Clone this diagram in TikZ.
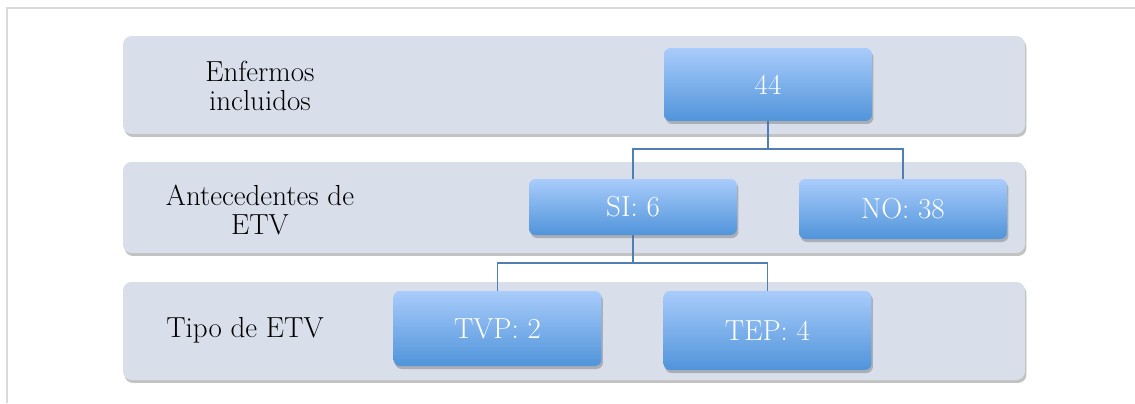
\documentclass[tikz,border=0pt]{standalone}
\usetikzlibrary{shadows,calc}
\definecolor{bandfill}{HTML}{D9DEEB}
\definecolor{bluetop}{HTML}{A9CCFB}
\definecolor{bluebot}{HTML}{5094DA}
\definecolor{connc}{HTML}{4F7FB5}
\definecolor{framec}{HTML}{DADADA}
\begin{document}
\begin{tikzpicture}[x=0.02cm,y=-0.02cm,
  band/.style={rectangle,rounded corners=0.17cm,fill=bandfill,minimum width=18.04cm,
    drop shadow={shadow xshift=0.03cm,shadow yshift=-0.06cm,opacity=0.4,fill=black!60}},
  bluebox/.style={rectangle,rounded corners=0.13cm,top color=bluetop,bottom color=bluebot,
    minimum width=4.16cm,text=white,font=\fontsize{16.5}{16}\selectfont,
    drop shadow={shadow xshift=0.03cm,shadow yshift=-0.06cm,opacity=0.4,fill=black!60}},
  lab/.style={align=center,font=\fontsize{16.5}{16.5}\selectfont},
  conn/.style={draw=connc,line width=1.1pt}]
\useasboundingbox (0,0) rectangle (1135,403);
\draw[framec,line width=1pt] (7,403) -- (7,8) -- (1135,8);
% bands
\node[band,minimum height=1.96cm] (b1) at (574,85) {};
\node[band,minimum height=1.82cm] (b2) at (574,207.5) {};
\node[band,minimum height=1.96cm] (b3) at (574,331) {};
% labels
\node[lab] (l1) at (260,86) {Enfermos\\incluidos};
\node[lab] (l2) at (260,210) {Antecedentes de\\ETV};
\node[lab] (l3) at (245,330) {Tipo de ETV};
% box coordinates for connectors
\coordinate (c44) at (768,121);
\coordinate (csi) at (633,235);
% connectors
\draw[conn] (c44) -- (768,149) -| (633,179);
\draw[conn] (768,149) -| (903,179);
\draw[conn] (csi) -- (633,263) -| (497.5,291);
\draw[conn] (633,263) -| (767.5,291);
% blue boxes
\node[bluebox,minimum height=1.46cm] (n44) at (768,84.5) {44};
\node[bluebox,minimum height=1.12cm] (si) at (633,207) {SI: 6};
\node[bluebox,minimum height=1.2cm] (no) at (903,209) {NO: 38};
\node[bluebox,minimum height=1.5cm] (tvp) at (497.5,328.5) {TVP: 2};
\node[bluebox,minimum height=1.58cm] (tep) at (767.5,330.5) {TEP: 4};
\end{tikzpicture}
\end{document}
